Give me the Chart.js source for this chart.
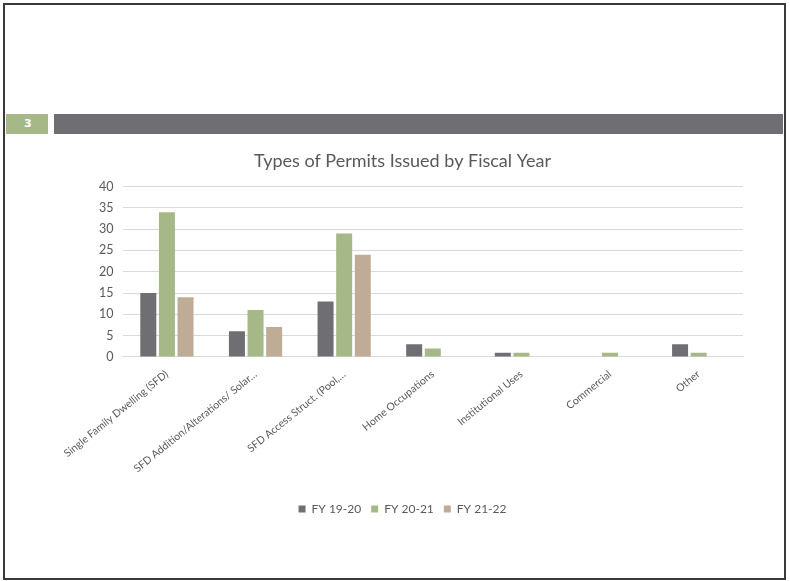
<!DOCTYPE html>
<html>
<head>
<meta charset="utf-8">
<script src="https://cdn.jsdelivr.net/npm/chart.js@4.4.0/dist/chart.umd.min.js"></script>
<style>
    body { margin: 0; background: #fff; width: 790px; height: 581px; overflow: hidden; }
    #frame { position: absolute; left: 3px; top: 3px; width: 779px; height: 573px; border: 2px solid #3a3a3a; }
    #num { position: absolute; left: 6px; top: 114px; width: 42px; height: 20px; background: #a6b888;
           color: #fff; font: bold 11px 'DejaVu Sans', sans-serif; line-height: 20px; padding-left: 18px; box-sizing: border-box; }
    #bar { position: absolute; left: 54px; top: 114px; width: 729px; height: 20px; background: #6f6e73; }
    #box { position: absolute; left: 60px; top: 140px; width: 700px; height: 385px; }
</style>
</head>
<body>
<div id="frame"></div>
<div id="num">3</div>
<div id="bar"></div>
<div id="box"><canvas id="myChart"></canvas></div>
<script>
const categories = ['Single Family Dwelling (SFD)', 'SFD Addition/Alterations/ Solar…', 'SFD Access Struct. (Pool,…',
    'Home Occupations', 'Institutional Uses', 'Commercial', 'Other'];
const fy1920 = [15, 6, 13, 3, 1, 0, 3];
const fy2021 = [34, 11, 29, 2, 1, 1, 1];
const fy2122 = [14, 7, 24, 0, 0, 0, 0];

const textColor = '#595959';
const font = "'Lato', 'Noto Sans', sans-serif";

const dataChart = {
    labels: categories,
    datasets: [
        { label: 'FY 19-20', data: fy1920, backgroundColor: '#6f6e73' },
        { label: 'FY 20-21', data: fy2021, backgroundColor: '#a6b888' },
        { label: 'FY 21-22', data: fy2122, backgroundColor: '#bfac96' }
    ]
};

const ctx = document.getElementById('myChart').getContext('2d');
const myChart = new Chart(ctx, {
    type: 'bar',
    data: dataChart,
    options: {
        animation: false,
        responsive: true,
        maintainAspectRatio: false,
        datasets: { bar: { categoryPercentage: 0.63, barPercentage: 0.86 } },
        layout: { padding: { left: 2, right: 17, top: 0, bottom: 0 } },
        plugins: {
            title: {
                display: true,
                text: 'Types of Permits Issued by Fiscal Year',
                color: textColor,
                font: { family: font, size: 18, weight: 'normal' },
                padding: { top: 10, bottom: 15 }
            },
            legend: {
                position: 'bottom',
                labels: {
                    color: textColor,
                    boxWidth: 7, boxHeight: 7,
                    padding: 10,
                    font: { family: font, size: 12 }
                }
            },
            tooltip: { enabled: false }
        },
        scales: {
            x: {
                grid: { display: false },
                border: { color: '#d9d9d9' },
                ticks: { color: textColor, maxRotation: 39, minRotation: 39, autoSkip: false,
                         font: { family: font, size: 10.5 } },
                // leave some empty room under the rotated labels
                afterFit: (scale) => { scale.height += 15; }
            },
            y: {
                min: 0, max: 40,
                border: { display: false },
                grid: { color: '#d9d9d9', drawTicks: false },
                ticks: { stepSize: 5, color: textColor, padding: 9, font: { family: font, size: 12.5 } }
            }
        }
    }
});
</script>
</body>
</html>
